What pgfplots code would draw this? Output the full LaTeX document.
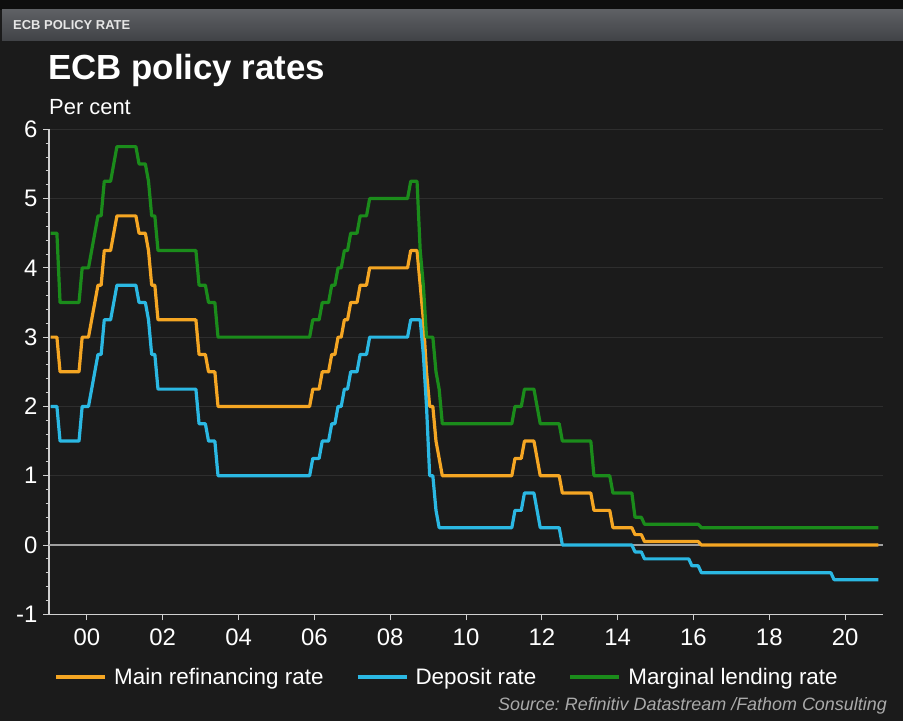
\documentclass[border=0pt]{standalone}
\usepackage{fontspec}
\setmainfont{Liberation Sans}
\usepackage{pgfplots}
\pgfplotsset{compat=1.18}
\usepackage{pgfplotstable}
\frenchspacing

\definecolor{bg}{HTML}{1B1B1B}
\definecolor{topstrip}{HTML}{0E0E0E}
\definecolor{barTop}{HTML}{5E6064}
\definecolor{barBot}{HTML}{404246}
\definecolor{headtext}{HTML}{E6E6E6}
\definecolor{axisc}{HTML}{D0D0D0}
\definecolor{gridc}{HTML}{2E2E2E}
\definecolor{zeroc}{HTML}{A0A0A0}
\definecolor{orangec}{HTML}{F5A623}
\definecolor{bluec}{HTML}{2BB8E3}
\definecolor{greenc}{HTML}{1B8C1B}
\definecolor{srcc}{HTML}{AAAAAA}

% ECB rates, end-of-month values (breakpoints only; flat runs between)
\pgfplotstableread{
x mro dep mlf
1999.0417 3.00 2.00 4.50
1999.2083 3.00 2.00 4.50
1999.2917 2.50 1.50 3.50
1999.7917 2.50 1.50 3.50
1999.8750 3.00 2.00 4.00
2000.0417 3.00 2.00 4.00
2000.1250 3.25 2.25 4.25
2000.2083 3.50 2.50 4.50
2000.2917 3.75 2.75 4.75
2000.3750 3.75 2.75 4.75
2000.4583 4.25 3.25 5.25
2000.6250 4.25 3.25 5.25
2000.7083 4.50 3.50 5.50
2000.7917 4.75 3.75 5.75
2001.2917 4.75 3.75 5.75
2001.3750 4.50 3.50 5.50
2001.5417 4.50 3.50 5.50
2001.6250 4.25 3.25 5.25
2001.7083 3.75 2.75 4.75
2001.7917 3.75 2.75 4.75
2001.8750 3.25 2.25 4.25
2002.8750 3.25 2.25 4.25
2002.9583 2.75 1.75 3.75
2003.1250 2.75 1.75 3.75
2003.2083 2.50 1.50 3.50
2003.3750 2.50 1.50 3.50
2003.4583 2.00 1.00 3.00
2005.8750 2.00 1.00 3.00
2005.9583 2.25 1.25 3.25
2006.1250 2.25 1.25 3.25
2006.2083 2.50 1.50 3.50
2006.3750 2.50 1.50 3.50
2006.4583 2.75 1.75 3.75
2006.5417 2.75 1.75 3.75
2006.6250 3.00 2.00 4.00
2006.7083 3.00 2.00 4.00
2006.7917 3.25 2.25 4.25
2006.8750 3.25 2.25 4.25
2006.9583 3.50 2.50 4.50
2007.1250 3.50 2.50 4.50
2007.2083 3.75 2.75 4.75
2007.3750 3.75 2.75 4.75
2007.4583 4.00 3.00 5.00
2008.4583 4.00 3.00 5.00
2008.5417 4.25 3.25 5.25
2008.7083 4.25 3.25 5.25
2008.7917 3.75 3.25 4.25
2008.8750 3.25 2.75 3.75
2008.9583 2.50 2.00 3.00
2009.0417 2.00 1.00 3.00
2009.1250 2.00 1.00 3.00
2009.2083 1.50 0.50 2.50
2009.2917 1.25 0.25 2.25
2009.3750 1.00 0.25 1.75
2011.2083 1.00 0.25 1.75
2011.2917 1.25 0.50 2.00
2011.4583 1.25 0.50 2.00
2011.5417 1.50 0.75 2.25
2011.7917 1.50 0.75 2.25
2011.8750 1.25 0.50 2.00
2011.9583 1.00 0.25 1.75
2012.4583 1.00 0.25 1.75
2012.5417 0.75 0.00 1.50
2013.2917 0.75 0.00 1.50
2013.3750 0.50 0.00 1.00
2013.7917 0.50 0.00 1.00
2013.8750 0.25 0.00 0.75
2014.3750 0.25 0.00 0.75
2014.4583 0.15 -0.10 0.40
2014.6250 0.15 -0.10 0.40
2014.7083 0.05 -0.20 0.30
2015.8750 0.05 -0.20 0.30
2015.9583 0.05 -0.30 0.30
2016.1250 0.05 -0.30 0.30
2016.2083 0.00 -0.40 0.25
2019.6250 0.00 -0.40 0.25
2019.7083 0.00 -0.50 0.25
2020.8750 0.00 -0.50 0.25
}\rates

\begin{document}
\begin{tikzpicture}[x=1bp,y=1bp]
\fill[bg] (0,0) rectangle (903,721);
\useasboundingbox (0,0) rectangle (903,721);
\fill[topstrip] (0,711) rectangle (903,721);
\shade[top color=barTop,bottom color=barBot] (2,680) rectangle (903,711);
\node[anchor=base west, inner sep=0, text=headtext, font=\bfseries\fontsize{13}{15}\selectfont] at (13,691) {ECB POLICY RATE};
\node[anchor=base west, inner sep=0, text=white, font=\bfseries\fontsize{35}{40}\selectfont] at (48,641) {ECB policy rates};
\node[anchor=base west, inner sep=0, text=white, font=\fontsize{22}{26}\selectfont] at (49,606) {Per cent};
\node[anchor=base east, inner sep=0, text=srcc, font=\itshape\fontsize{18}{22}\selectfont] at (887,10) {Source: Refinitiv Datastream /Fathom Consulting};

\begin{axis}[
  at={(49bp,106.7bp)}, anchor=south west, scale only axis,
  width=834bp, height=485bp,
  xmin=1999, xmax=2021, ymin=-1, ymax=6,
  axis x line=bottom, axis y line=left,
  axis line style={-, color=axisc, line width=1.2bp},
  xtick={2000,2002,...,2020},
  xticklabels={00,02,04,06,08,10,12,14,16,18,20},
  minor x tick num=7,
  ytick={-1,0,...,6},
  yticklabels={-1,0,1,2,3,4,5,6},
  minor y tick num=4,
  tick align=outside,
  major tick length=6bp, minor tick length=3.5bp,
  tick style={color=axisc, line width=1bp},
  ymajorgrids, grid style={color=gridc, line width=0.8bp},
  ticklabel style={text=white, font=\fontsize{24}{28}\selectfont},
  xticklabel style={yshift=-5bp},
  yticklabel style={xshift=-2bp},
  legend columns=3,
  legend cell align=left,
  legend style={at={(0.006,-0.129)}, anchor=west, draw=none, fill=none,
    inner sep=0pt, text=white, font=\fontsize{22.5}{27}\selectfont,
    /tikz/every odd column/.append style={column sep=5bp},
    /tikz/every even column/.append style={column sep=30bp}},
  legend image code/.code={\draw[#1, line width=4bp] (0bp,0bp) -- (49bp,0bp);},
]
\addplot[zeroc, line width=1.3bp, forget plot] coordinates {(1999,0) (2021,0)};
\addplot[orangec, line width=3.2bp, line join=round, no markers] table[x=x,y=mro]{\rates};
\addlegendentry{Main refinancing rate}
\addplot[bluec, line width=3.2bp, line join=round, no markers] table[x=x,y=dep]{\rates};
\addlegendentry{Deposit rate}
\addplot[greenc, line width=3.2bp, line join=round, no markers] table[x=x,y=mlf]{\rates};
\addlegendentry{Marginal lending rate}
\end{axis}
\end{tikzpicture}
\end{document}
